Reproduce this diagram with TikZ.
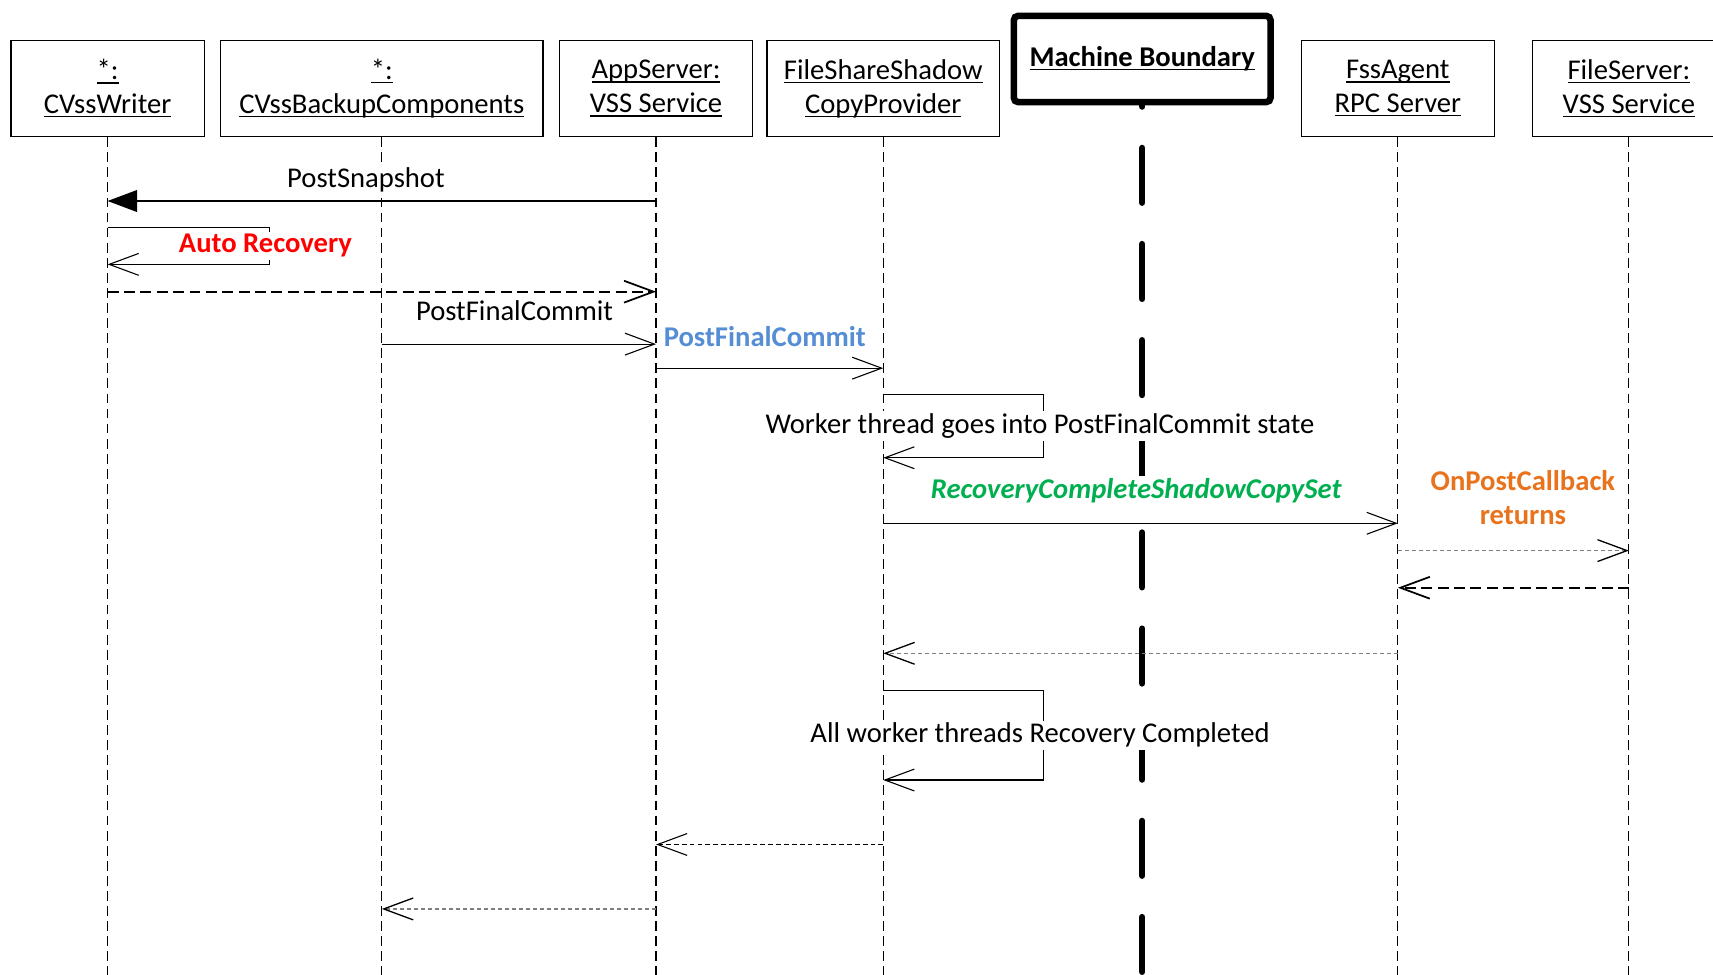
\documentclass[tikz,border=0pt]{standalone}
\usepackage{fontspec}
\setmainfont{Carlito}
\usetikzlibrary{arrows.meta}
\definecolor{mblue}{HTML}{558ED5}
\definecolor{mgreen}{HTML}{00B050}
\definecolor{morange}{HTML}{E9731C}
\definecolor{mgray}{HTML}{7F7F7F}
\newcommand\dfont{\fontsize{13.1pt}{15.5pt}\selectfont}
\newsavebox\ulnbox
\newcommand\uln[1]{\sbox\ulnbox{#1}\rlap{\rule[-1.7pt]{\wd\ulnbox}{0.55pt}}\usebox\ulnbox}
\tikzset{
  obj/.style={draw, line width=0.6pt, minimum height=44pt, align=center, inner sep=0pt, font=\dfont},
  lifeline/.style={line width=0.5pt, dash pattern=on 4.5pt off 2.4pt},
  boundary/.style={line width=3pt, line cap=round, dash pattern=on 25pt off 19pt, dash phase=24.5pt},
  opentip/.style={-{Straight Barb[length=13.5pt,width=10pt,color=black]}},
  msg/.style={line width=0.5pt, opentip},
  synch/.style={line width=0.5pt, -{Triangle[length=13.5pt,width=10pt]}},
  retlong/.style={line width=0.8pt, dash pattern=on 5pt off 2.5pt, opentip},
  retgray/.style={line width=0.6pt, mgray, dash pattern=on 1.9pt off 1.3pt, opentip},
  retshort/.style={line width=0.5pt, dash pattern=on 2.2pt off 1.4pt, opentip},
  lbl/.style={font=\dfont, inner sep=1pt, align=center},
  lblw/.style={lbl, fill=white},
}
\begin{document}
\begin{tikzpicture}[x=0.5pt, y=-0.5pt]
\clip (0,0) rectangle (1568,892);
\fill[white] (0,0) rectangle (1568,892);
% objects
\node[obj, minimum width=88.5pt] (w) at (98.5,81) {\uln{*:}\\\uln{CVssWriter}};
\node[obj, minimum width=147.5pt] (bc) at (349.5,81) {\uln{*:}\\\uln{CVssBackupComponents}};
\node[obj, minimum width=88.5pt] (as) at (600.5,81) {\uln{AppServer:}\\\uln{VSS Service}};
\node[obj, minimum width=106.5pt] (fp) at (808.5,81) {\uln{FileShareShadow}\\\uln{CopyProvider}};
\node[draw, line width=3pt, rounded corners=2pt, minimum width=117.5pt, minimum height=39.5pt, inner sep=0pt, font=\dfont\bfseries] (mb) at (1045.5,54) {\uln{Machine Boundary}};
\node[obj, minimum width=88.5pt] (fa) at (1279.5,81) {\uln{FssAgent}\\\uln{RPC Server}};
\node[obj, minimum width=88pt] (fs) at (1491,81) {\uln{FileServer:}\\\uln{VSS Service}};
% lifelines
\coordinate (bottom) at (0,900);
\foreach \n in {w,bc,as,fp,fa,fs}{
  \draw[lifeline] (\n.south) -- (\n.south |- bottom);
}
\draw[boundary] (mb.south) -- (mb.south |- bottom);
% messages
\draw[synch] (as |- 0,184) -- (w |- 0,184);
\draw[msg] (w |- 0,208) -- ++(148,0) -- ++(0,34) -- (w |- 0,242);
\draw[retlong] (w |- 0,267) -- (as |- 0,267);
\draw[msg] (bc |- 0,315) -- (as |- 0,315);
\draw[msg] (as |- 0,337) -- (fp |- 0,337);
\draw[msg] (fp |- 0,361) -- ++(147,0) -- ++(0,58) -- (fp |- 0,419);
\draw[msg] (fp |- 0,479) -- (fa |- 0,479);
\draw[retgray] (fa |- 0,504) -- (fs |- 0,504);
\draw[retlong] (fs |- 0,538) -- (fa |- 0,538);
\draw[retgray] (fa |- 0,598) -- (fp |- 0,598);
\draw[msg] (fp |- 0,632) -- ++(147,0) -- ++(0,82) -- (fp |- 0,714);
\draw[retshort] (fp |- 0,773) -- (as |- 0,773);
\draw[retgray] (as |- 0,832) -- (bc |- 0,832);
% labels
\node[lblw] (l1) at (335,165) {PostSnapshot};
\node[lblw, text=red, font=\dfont\bfseries] (l2) at (243,225) {Auto Recovery};
\node[lbl] (l3) at (471,284) {PostFinalCommit};
\node[lbl, text=mblue, font=\dfont\bfseries] (l4) at (700,308) {PostFinalCommit};
\node[lblw] (l5) at (952,390) {Worker thread goes into PostFinalCommit state};
\node[lblw, text=mgreen, font=\dfont\bfseries\itshape] (l6) at (1040,449) {RecoveryCompleteShadowCopySet};
\node[lbl, text=morange, font=\dfont\bfseries] (l7) at (1394,455.5) {OnPostCallback\\returns};
\node[lblw] (l8) at (952,673) {All worker threads Recovery Completed};
\end{tikzpicture}
\end{document}
